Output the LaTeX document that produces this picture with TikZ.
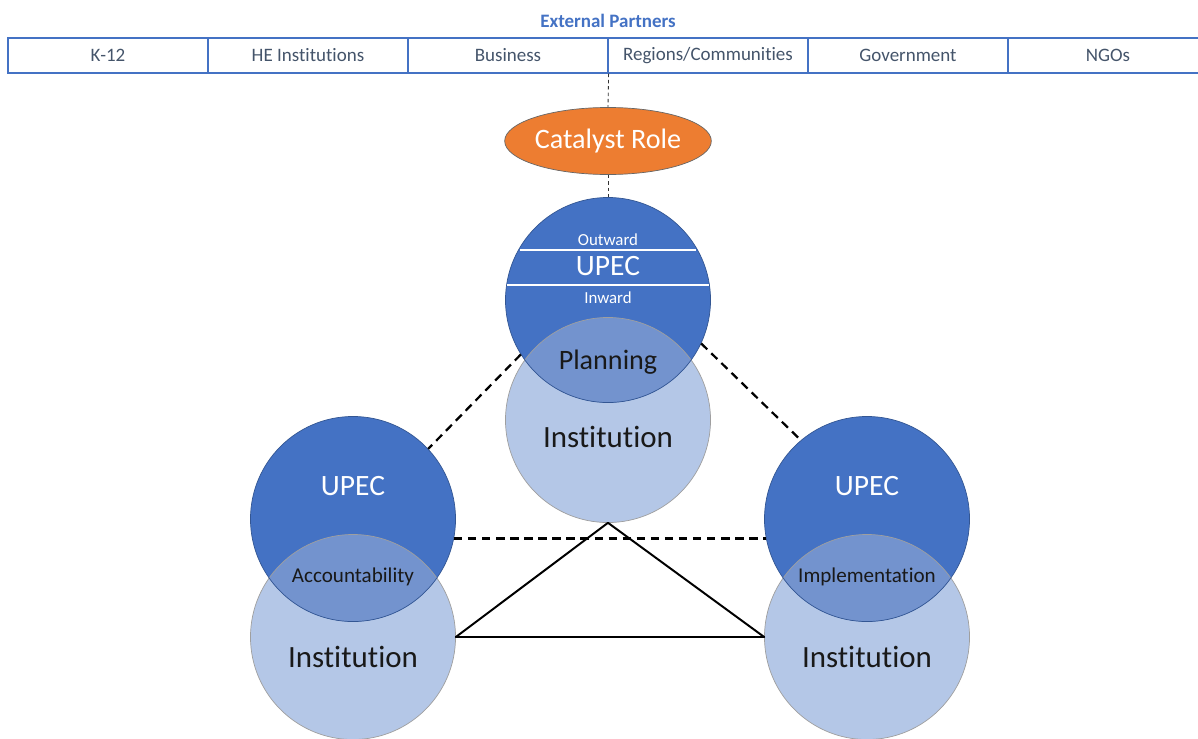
\documentclass[tikz,border=0pt]{standalone}
\usepackage{fontspec}
\setmainfont[Ligatures=NoCommon]{Carlito}
\usetikzlibrary{shapes.geometric}

\definecolor{upecblue}{HTML}{4472C4}
\definecolor{lensblue}{HTML}{7393CE}
\definecolor{instblue}{HTML}{B4C7E7}
\definecolor{partnertext}{HTML}{44546A}
\definecolor{catalystorange}{HTML}{ED7D31}

\tikzset{
  cell/.style={draw=upecblue, line width=0.8pt, minimum width=5cm, minimum height=0.875cm,
    inner sep=0pt, text=partnertext, font=\fontsize{13.5}{16}\selectfont},
  ring/.style={circle, minimum size=5.125cm, inner sep=0pt},
  upec/.style={ring, fill=upecblue},
  inst/.style={ring, fill=instblue},
  upecline/.style={draw=upecblue!75!black, line width=0.5pt},
  instline/.style={draw=gray!75, line width=0.5pt},
  bigtext/.style={font=\fontsize{22}{26}\selectfont, text=black!90},
  upectext/.style={font=\fontsize{21}{25}\selectfont, text=white},
  lenstext/.style={font=\fontsize{15}{18}\selectfont, text=black!90},
  smalltext/.style={font=\fontsize{12}{14}\selectfont, text=white},
  thindash/.style={draw=black!80, line width=0.6pt, dash pattern=on 2.5pt off 2pt},
  linkdash/.style={draw=black, line width=1.6pt, dash pattern=on 6pt off 4pt},
  solidlink/.style={draw=black, line width=1.4pt, line join=round}
}

\begin{document}
\begin{tikzpicture}[x=0.025cm, y=-0.025cm]
% 1. canvas
\clip (0,0) rectangle (1198,738);

% 2. external partners row
\node[font=\bfseries\fontsize{13.5}{16}\selectfont, text=upecblue] (partners) at (608,21) {External Partners};
\foreach \i/\txt in
    {0/K-12, 1/HE Institutions, 2/Business, 3/{Regions/Communities}, 4/Government, 5/NGOs}
    {\node[cell] (p\i) at (108+200*\i, 55.5) {\txt};
    }

% 3. catalyst role
\node[ellipse, fill=catalystorange, draw=gray!80!black, line width=0.5pt,
      minimum width=5.15cm, minimum height=1.675cm, inner sep=0pt,
      text=white, font=\fontsize{20}{24}\selectfont] (catalyst) at (608,141) {Catalyst Role};

% 4. UPEC / institution pairs with overlap
\foreach \n/\x/\yu/\yi in
    {T/608/300/420, L/353/519/637, R/867/519/637}
    {\node[inst] (inst\n) at (\x,\yi) {};
     \node[upec] (upec\n) at (\x,\yu) {};
     \begin{scope}
       \clip (\x,\yu) circle[radius=2.5625cm];
       \fill[lensblue] (\x,\yi) circle[radius=2.5625cm];
     \end{scope}
     \draw[instline] (\x,\yi) circle[radius=2.5625cm];
     \draw[upecline] (\x,\yu) circle[radius=2.5625cm];
    }

% 5. bands of the top UPEC
\draw[white, line width=0.8pt] (520,250) -- (696,250);
\draw[white, line width=0.8pt] (507,285) -- (709,285);

% 6. texts
\node[smalltext] (outward) at (608,240) {Outward};
\node[upectext] (upecTtext) at (608,266) {UPEC};
\node[smalltext] (inward) at (608,298) {Inward};
\node[font=\fontsize{20}{24}\selectfont, text=black!90] (planning) at (608,362) {Planning};
\node[bigtext] (instTtext) at (608,437) {Institution};
\node[upectext] (upecLtext) at (353,486) {UPEC};
\node[lenstext] (accountability) at (353,577) {Accountability};
\node[bigtext] (instLtext) at (353,657) {Institution};
\node[upectext] (upecRtext) at (867,486) {UPEC};
\node[lenstext] (implementation) at (867,577) {Implementation};
\node[bigtext] (instRtext) at (867,657) {Institution};

% 7. connectors
\draw[thindash] (p2.south east) -- (catalyst.north);
\draw[thindash] (catalyst.south) -- (upecT.north);
\draw[linkdash] (upecT.212) -- (upecL.43);
\draw[linkdash] (upecT.-25) -- (upecR.130);
\draw[linkdash] (upecL.-11) -- (upecR.191);
\draw[solidlink] (instT.south) -- (instL.east) -- (instR.west) -- cycle;
\end{tikzpicture}
\end{document}
